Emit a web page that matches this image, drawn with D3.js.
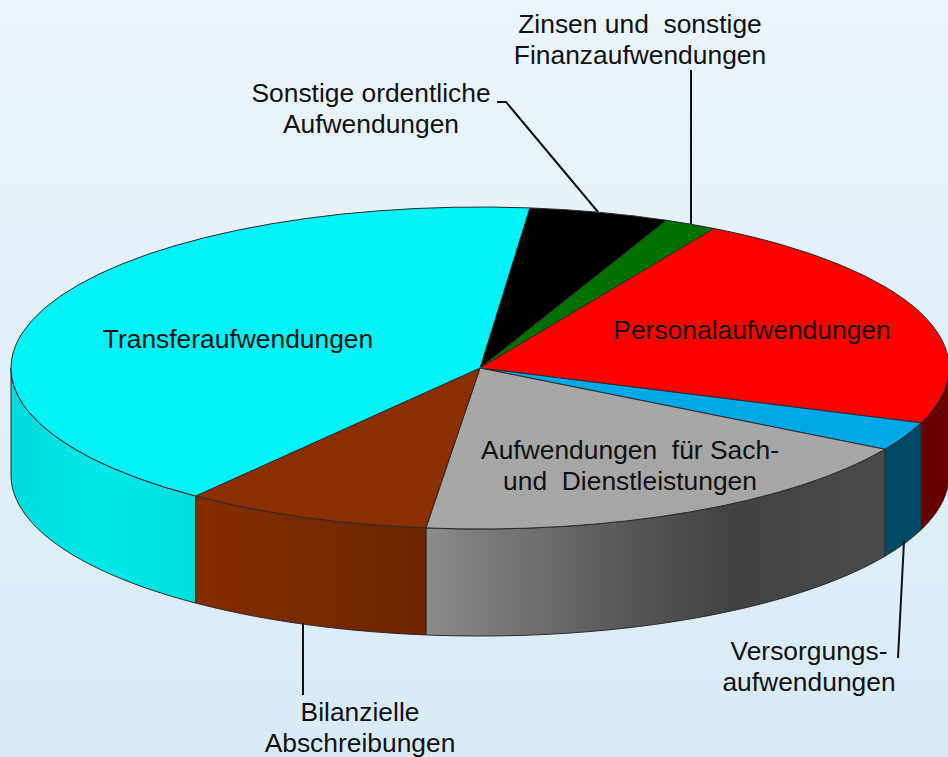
<!DOCTYPE html>
<html>
<head>
<meta charset="utf-8">
<script src="https://cdn.jsdelivr.net/npm/d3@7"></script>
<style>
    html, body { margin: 0; padding: 0; background: #dfedf7; overflow: hidden; }
    svg { display: block; }
    text { font-family: "Liberation Sans", Arial, sans-serif; font-size: 26.4px; fill: #111; white-space: pre; }
</style>
</head>
<body>
<div id="chart"></div>
<script>
// Values, in percent, clockwise from the black slice
const categories = [
    "Sonstige ordentliche Aufwendungen",
    "Zinsen und sonstige Finanzaufwendungen",
    "Personalaufwendungen",
    "Versorgungsaufwendungen",
    "Aufwendungen für Sach- und Dienstleistungen",
    "Bilanzielle Abschreibungen",
    "Transferaufwendungen"
];
const values = [4.81, 1.81, 22.22, 2.89, 18.42, 8.53, 41.33];
const topColors = ["#000000", "#007000", "#ff0000", "#00a8e6", "#a6a6a6", "#8c2f00", "#00f4f6"];
const sideColors = [
    ["#000000", "#000000"],
    ["#004000", "#004000"],
    ["#660000", "#6a0000"],
    ["#004a66", "#004a66"],
    ["#8c8c8c", "#626262", "#424242", "#4a4a4a"],
    ["#852d00", "#6c2500"],
    ["#00dcdc", "#00e8e8", "#00dede"]
];

const WIDTH = 948, HEIGHT = 757;
const CX = 480, CY = 368, RX = 469, RY = 161, DEPTH = 107;
const START = 6.1 * Math.PI / 180;

const svg = d3.select("#chart").append("svg")
    .attr("width", WIDTH)
    .attr("height", HEIGHT);

const defs = svg.append("defs");

// Page background
const bg = defs.append("linearGradient")
    .attr("id", "bg").attr("x1", 0).attr("y1", 0).attr("x2", 0).attr("y2", 1);
bg.append("stop").attr("offset", 0).attr("stop-color", "#ebf4fa");
bg.append("stop").attr("offset", 1).attr("stop-color", "#d9eaf5");
svg.append("rect").attr("width", WIDTH).attr("height", HEIGHT).attr("fill", "url(#bg)");

const pie = d3.pie().sort(null)
    .startAngle(START)
    .endAngle(START + 2 * Math.PI);
const slices = pie(values);

// Point on the rim of the flattened pie, angle clockwise from the top
const rim = (a, dy = 0) => [CX + RX * Math.sin(a), CY - RY * Math.cos(a) + dy];

// Side walls, only the part facing the viewer
const FRONT = [Math.PI / 2, 3 * Math.PI / 2];
const wall = d3.line();
const walls = svg.append("g");

slices.forEach((d, i) => {
    const a0 = Math.max(d.startAngle, FRONT[0]);
    const a1 = Math.min(d.endAngle, FRONT[1]);
    if (a1 <= a0) return;

    const grad = defs.append("linearGradient").attr("id", `side${i}`);
    sideColors[i].forEach((c, k) => {
        grad.append("stop")
            .attr("offset", k / (sideColors[i].length - 1))
            .attr("stop-color", c);
    });

    const steps = d3.range(0, 61).map(k => a0 + (a1 - a0) * k / 60);
    const outline = steps.map(a => rim(a)).concat(steps.slice().reverse().map(a => rim(a, DEPTH)));

    walls.append("path")
        .attr("d", wall(outline) + "Z")
        .attr("fill", `url(#side${i})`)
        .attr("stroke", "#2a2a2a")
        .attr("stroke-width", 1);
});

// Top face, a normal arc squashed into the ellipse
const arc = d3.arc().innerRadius(0).outerRadius(RX);

svg.append("g")
    .attr("transform", `translate(${CX},${CY}) scale(1,${RY / RX})`)
    .selectAll("path")
    .data(slices)
    .join("path")
    .attr("d", arc)
    .attr("fill", (d, i) => topColors[i])
    .attr("stroke", "#2a2a2a")
    .attr("stroke-width", 1)
    .attr("vector-effect", "non-scaling-stroke");

// Leader lines from the outside labels
const leaders = [
    [[497, 102], [506, 102], [598, 212]],
    [[691, 70], [691, 224]],
    [[904, 541], [898, 658]],
    [[303, 623], [303, 695]]
];
svg.append("g").selectAll("path")
    .data(leaders)
    .join("path")
    .attr("d", d3.line())
    .attr("fill", "none")
    .attr("stroke", "#111")
    .attr("stroke-width", 2);

// Labels
const labels = [
    { x: 238, y: 348, lines: ["Transferaufwendungen"] },
    { x: 752, y: 339, lines: ["Personalaufwendungen"] },
    { x: 630, y: 459, lines: ["Aufwendungen  für Sach-", "und  Dienstleistungen"] },
    { x: 371, y: 102, lines: ["Sonstige ordentliche", "Aufwendungen"] },
    { x: 640, y: 33, lines: ["Zinsen und  sonstige", "Finanzaufwendungen"] },
    { x: 809, y: 660, lines: ["Versorgungs-", "aufwendungen"] },
    { x: 360, y: 721, lines: ["Bilanzielle", "Abschreibungen"] }
];
const labelText = svg.append("g").selectAll("text")
    .data(labels)
    .join("text")
    .attr("text-anchor", "middle")
    .attr("transform", d => `translate(${d.x},${d.y})`);

labelText.selectAll("tspan")
    .data(d => d.lines)
    .join("tspan")
    .attr("x", 0)
    .attr("y", (d, i) => i * 31)
    .text(d => d);
</script>
</body>
</html>
